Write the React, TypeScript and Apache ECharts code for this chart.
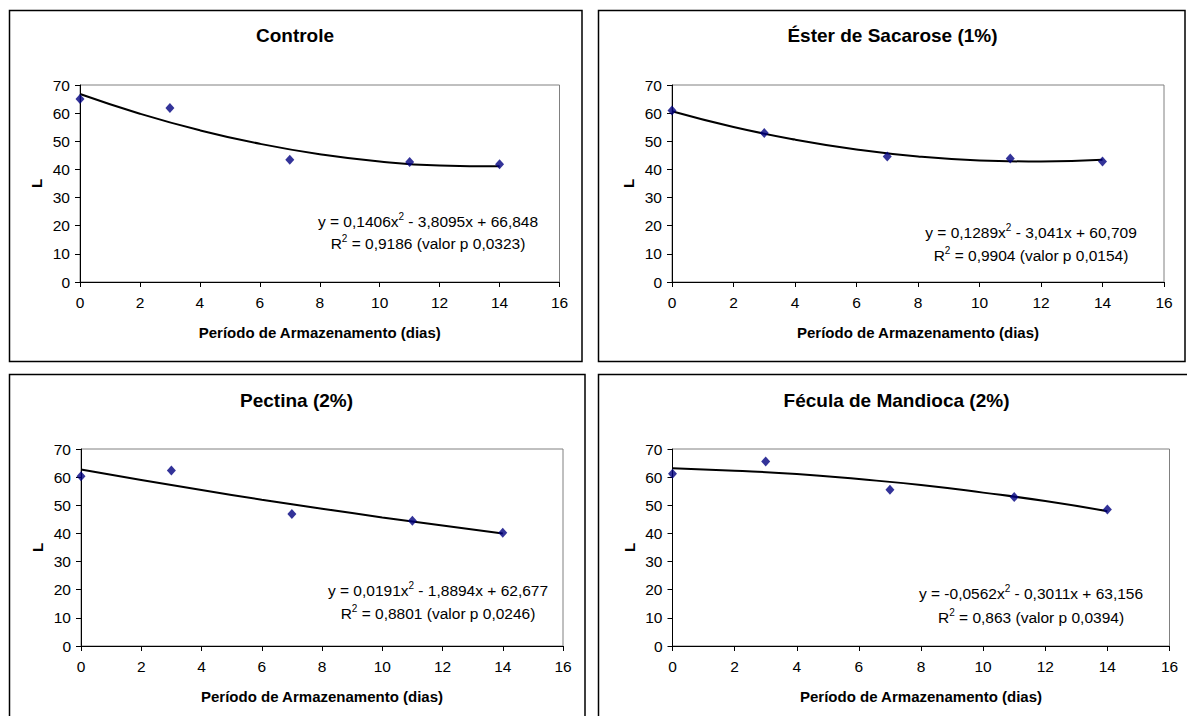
import React, { useEffect, useRef } from "react";
import * as echarts from "echarts";

// ---------- data ----------
const panelTitles = [
  "Controle",
  "Éster de Sacarose (1%)",
  "Pectina (2%)",
  "Fécula de Mandioca (2%)",
];
const days = [0, 3, 7, 11, 14];
const controleL = [65.0, 61.8, 43.4, 42.6, 41.8];
const esterL = [60.9, 52.9, 44.6, 43.9, 42.8];
const pectinaL = [60.3, 62.4, 46.9, 44.5, 40.2];
const feculaL = [61.2, 65.6, 55.5, 52.9, 48.5];

const trendDays = [0, 2, 4, 6, 8, 10, 12, 14];
const controleTrend = [66.8, 59.8, 53.9, 49.1, 45.4, 42.8, 41.4, 41.1];
const esterTrend = [60.7, 55.1, 50.6, 47.1, 44.6, 43.2, 42.8, 43.4];
const pectinaTrend = [62.7, 59.0, 55.4, 52.0, 48.8, 45.7, 42.8, 40.0];
const feculaTrend = [63.2, 62.3, 61.1, 59.3, 57.2, 54.5, 51.5, 47.9];

const equations = [
  "y = 0,1406x^2 - 3,8095x + 66,848",
  "y = 0,1289x^2 - 3,041x + 60,709",
  "y = 0,0191x^2 - 1,8894x + 62,677",
  "y = -0,0562x^2 - 0,3011x + 63,156",
];
const r2Lines = [
  "R^2 = 0,9186 (valor p 0,0323)",
  "R^2 = 0,9904 (valor p 0,0154)",
  "R^2 = 0,8801 (valor p 0,0246)",
  "R^2 = 0,863 (valor p 0,0394)",
];
const xAxisTitle = "Período de Armazenamento (dias)";
const yAxisTitle = "L";
const xMin = 0, xMax = 16, xStep = 2;
const yMin = 0, yMax = 70, yStep = 10;

const pointSets = [controleL, esterL, pectinaL, feculaL];
const trendSets = [controleTrend, esterTrend, pectinaTrend, feculaTrend];

// ---------- layout ----------
const FONT = '"Liberation Sans", Arial, Helvetica, sans-serif';
const panels = [
  { box: [9.5, 10.5, 572.5, 351], grid: [80, 85, 479.5, 197], title: [295, 35], eq: [428, 221, 243] },
  { box: [598.5, 10.5, 586.5, 351], grid: [672, 85, 492, 197], title: [892.5, 35], eq: [1031, 232, 255] },
  { box: [9.5, 374.5, 575.5, 350], grid: [81, 449, 482, 197], title: [296.5, 400], eq: [438, 590, 613] },
  { box: [598.5, 374.5, 595, 350], grid: [672.5, 449, 497, 197], title: [896.5, 400], eq: [1031, 593, 617] },
];

function richText(s: string) {
  return "{n|" + s.replace("^2", "}{s|2}{n|") + "}";
}

export default function App() {
  const ref = useRef<HTMLDivElement>(null);

  useEffect(() => {
    if (!ref.current) return;
    const chart = echarts.init(ref.current, undefined, { renderer: "svg" });

    const grids: any[] = [];
    const xAxes: any[] = [];
    const yAxes: any[] = [];
    const series: any[] = [];
    const graphics: any[] = [];

    panels.forEach((p, i) => {
      const [gl, gt, gw, gh] = p.grid;
      grids.push({
        left: gl, top: gt, width: gw, height: gh,
        show: true, borderColor: "#808080", borderWidth: 1,
        backgroundColor: "transparent",
      });
      xAxes.push({
        gridIndex: i, type: "value", min: xMin, max: xMax, interval: xStep,
        axisLine: { show: true, onZero: false, lineStyle: { color: "#000", width: 1 } },
        axisTick: { show: true, length: 5, lineStyle: { color: "#000" } },
        axisLabel: { fontSize: 15.5, color: "#000", margin: 12, fontFamily: FONT },
        splitLine: { show: false },
        name: xAxisTitle, nameLocation: "middle", nameGap: 43,
        nameTextStyle: { fontSize: 15, fontWeight: "bold", color: "#000", fontFamily: FONT },
      });
      yAxes.push({
        gridIndex: i, type: "value", min: yMin, max: yMax, interval: yStep,
        axisLine: { show: true, onZero: false, lineStyle: { color: "#000", width: 1 } },
        axisTick: { show: true, length: 5, lineStyle: { color: "#000" } },
        axisLabel: { fontSize: 15.5, color: "#000", margin: 10, fontFamily: FONT },
        splitLine: { show: false },
        name: yAxisTitle, nameLocation: "middle", nameGap: 36, nameRotate: 90,
        nameTextStyle: { fontSize: 15, fontWeight: "bold", color: "#000", fontFamily: FONT },
      });
      series.push({
        type: "line", xAxisIndex: i, yAxisIndex: i,
        data: trendDays.map((d, k) => [d, trendSets[i][k]]),
        smooth: true, symbol: "none", z: 2,
        lineStyle: { color: "#000", width: 2 },
      });
      series.push({
        type: "scatter", xAxisIndex: i, yAxisIndex: i,
        data: days.map((d, k) => [d, pointSets[i][k]]),
        symbol: "diamond", symbolSize: [9, 10], z: 3,
        itemStyle: { color: "#000080" },
      });

      const [bx, by, bw, bh] = p.box;
      graphics.push({
        type: "rect", shape: { x: bx, y: by, width: bw, height: bh },
        style: { fill: "none", stroke: "#000", lineWidth: 1.5 }, silent: true, z: 0,
      });
      graphics.push({
        type: "text", x: p.title[0], y: p.title[1],
        style: {
          text: panelTitles[i], fontSize: 19, fontWeight: "bold", fontFamily: FONT,
          fill: "#000", align: "center", verticalAlign: "middle",
        },
      });
      const eqRich = {
        n: { fontSize: 15.5, fontFamily: FONT, color: "#000", lineHeight: 20 },
        s: { fontSize: 10, fontFamily: FONT, color: "#000", verticalAlign: "top", lineHeight: 20 },
      };
      graphics.push({
        type: "text", x: p.eq[0], y: p.eq[1],
        style: {
          text: richText(equations[i]), rich: eqRich,
          align: "center", verticalAlign: "middle", fill: "#000",
        },
      });
      graphics.push({
        type: "text", x: p.eq[0], y: p.eq[2],
        style: {
          text: richText(r2Lines[i]), rich: eqRich,
          align: "center", verticalAlign: "middle", fill: "#000",
        },
      });
    });

    chart.setOption({
      animation: false,
      backgroundColor: "#fff",
      textStyle: { fontFamily: FONT },
      grid: grids,
      xAxis: xAxes,
      yAxis: yAxes,
      series,
      graphic: graphics,
    });

    return () => chart.dispose();
  }, []);

  return (
    <div
      ref={ref}
      style={{ position: "fixed", left: 0, top: 0, width: 1187, height: 716, background: "#fff" }}
    />
  );
}
